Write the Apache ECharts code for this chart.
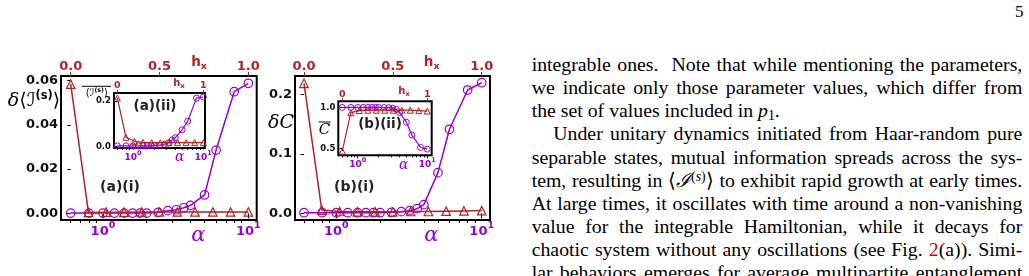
<!DOCTYPE html>
<html>
<head>
<meta charset="utf-8">
<script src="https://cdn.jsdelivr.net/npm/echarts@6.0.0/dist/echarts.min.js"></script>
<style>
html,body{margin:0;padding:0;background:#fff;}
body{width:1029px;height:276px;position:relative;overflow:hidden;}
#chart{position:absolute;left:0;top:0;width:520px;height:276px;}
#text{position:absolute;left:531.7px;top:53.4px;width:490.6px;font-family:'Liberation Serif','Times New Roman',serif;font-size:19.8px;line-height:23.04px;color:#000;}
#text .l{height:23.04px;text-align:justify;text-align-last:justify;}
#text .last{text-align:left;text-align-last:left;}
#text .ind{text-indent:21.6px;}
#text sup{font-size:0.7em;line-height:0;vertical-align:0.45em;}
#text sub{font-size:0.7em;line-height:0;vertical-align:-0.25em;}
#text .red{color:#e00000;}
#pg{position:absolute;left:1015px;top:2px;font-family:'Liberation Serif',serif;font-size:17px;line-height:20px;}
</style>
</head>
<body>
<div id="chart"></div>
<div id="pg">5</div>
<div id="text">
<div class="l">integrable ones.&nbsp; Note that while mentioning the parameters,</div>
<div class="l">we indicate only those parameter values, which differ from</div>
<div class="l last">the set of values included in <i>p</i><sub>1</sub>.</div>
<div class="l ind">Under unitary dynamics initiated from Haar-random pure</div>
<div class="l">separable states, mutual information spreads across the sys-</div>
<div class="l">tem, resulting in ⟨<i>ℐ</i><sup>(<i>s</i>)</sup>⟩ to exhibit rapid growth at early times.</div>
<div class="l">At large times, it oscillates with time around a non-vanishing</div>
<div class="l">value for the integrable Hamiltonian, while it decays for</div>
<div class="l">chaotic system without any oscillations (see Fig. <span class="red">2</span>(a)). Simi-</div>
<div class="l">lar behaviors emerges for average multipartite entanglement</div>
</div>
<script>
// ---------------- data ----------------
const alphaValues = [0.6, 0.8, 1.0, 1.2, 1.4, 1.6, 1.8, 2.0, 2.4, 2.8, 3.2, 3.6, 4, 5, 6, 8, 10];
const hxValues = [0, 0.1, 0.2, 0.3, 0.4, 0.5, 0.6, 0.7, 0.8, 0.9, 1.0];

const mainA_alpha = [0.0001, 0.0001, 0.0001, 0.0001, 0.0001, 0.0001, 0.0001, 0.0001, 0.0004, 0.0012, 0.0016, 0.0025, 0.0036, 0.0083, 0.0286, 0.0550, 0.0588];
const mainA_hx = [0.0584, 0.0004, 0.0005, 0.0005, 0.0006, 0.0006, 0.0006, 0.0006, 0.0006, 0.0006, 0.0006];
const insetA_alpha = [0.003, 0.003, 0.003, 0.003, 0.003, 0.003, 0.004, 0.004, 0.006, 0.010, 0.016, 0.029, 0.039, 0.074, 0.112, 0.214, 0.219];
const insetA_hx = [0.2146, 0.041, 0.023, 0.018, 0.017, 0.017, 0.017, 0.017, 0.017, 0.017, 0.017];
const mainB_alpha = [0.001, 0.001, 0.001, 0.001, 0.001, 0.001, 0.001, 0.001, 0.0017, 0.0027, 0.0044, 0.0078, 0.0145, 0.0683, 0.1412, 0.2072, 0.2195];
const mainB_hx = [0.2185, 0.0055, 0.003, 0.0025, 0.0025, 0.0025, 0.003, 0.003, 0.0035, 0.004, 0.0045];
const insetB_alpha = [0.998, 0.998, 0.998, 0.998, 0.998, 0.998, 0.998, 0.998, 0.997, 0.995, 0.99, 0.975, 0.935, 0.82, 0.665, 0.515, 0.495];
const insetB_hx = [0.47, 0.935, 0.96, 0.965, 0.965, 0.965, 0.965, 0.965, 0.965, 0.96, 0.955];

// tick values
const alphaMajorTicks = [1, 10];
const alphaMinorTicks = [0.6, 0.7, 0.8, 0.9, 2, 3, 4, 5, 6, 7, 8, 9];
const hxTicksMain = [0, 0.5, 1.0];
const hxTicksInset = [0, 1];
const yTicksMainA = [0, 0.02, 0.04, 0.06];
const yTicksInsetA = [0, 0.2];
const yTicksMainB = [0, 0.1, 0.2];
const yTicksInsetB = [0.5, 1.0];

// ---------------- layout / style ----------------
const PURPLE = '#9400D3';
const RED = '#B22222';
const INK = '#111';

const panels = [
  {box: [61, 76, 195.7, 144], a: [0.5146, 11.42], y: [-0.00303, 0.0621], yTicks: yTicksMainA, yDec: 2,
   hxTicks: hxTicksMain, hxDec: 1, alphaData: mainA_alpha, hxData: mainA_hx, inset: false},
  {box: [295, 76, 195, 144], a: [0.5203, 11.40], y: [-0.01126, 0.2308], yTicks: yTicksMainB, yDec: 1,
   hxTicks: hxTicksMain, hxDec: 1, alphaData: mainB_alpha, hxData: mainB_hx, inset: false},
  {box: [114, 93, 91, 55], a: [0.5385, 10.57], y: [-0.0066, 0.2367], yTicks: yTicksInsetA, yDec: 1,
   hxTicks: hxTicksInset, hxDec: 0, alphaData: insetA_alpha, hxData: insetA_hx, inset: true},
  {box: [338.3, 101.3, 93.4, 54], a: [0.5255, 11.57], y: [0.4203, 1.0725], yTicks: yTicksInsetB, yDec: 1,
   hxTicks: hxTicksInset, hxDec: 0, alphaData: insetB_alpha, hxData: insetB_hx, inset: true}
];

const LOG06 = Math.log10(0.6), SPAN = Math.log10(10 / 0.6);
const toHx = a => (Math.log10(a) - LOG06) / SPAN;

const grids = [], xAxes = [], yAxes = [], series = [];
panels.forEach((p, i) => {
  const ins = p.inset;
  grids.push({left: p.box[0], top: p.box[1], width: p.box[2], height: p.box[3], show: true,
    borderColor: '#000', borderWidth: 2, backgroundColor: ins ? '#fff' : 'rgba(0,0,0,0)',
    containLabel: false, outerBoundsMode: 'none'});
  const base = {gridIndex: i, splitLine: {show: false}, axisLine: {show: false}, minorTick: {show: false}};
  const supFs = ins ? 6.5 : 9.5, baseFs = ins ? 9 : 13;
  xAxes.push(Object.assign({}, base, {
    type: 'log', position: 'bottom', min: p.a[0], max: p.a[1],
    axisTick: {show: true, customValues: alphaMajorTicks, length: ins ? 3 : 5, lineStyle: {color: '#000', width: 1}},
    axisLabel: {show: true, customValues: alphaMajorTicks, margin: ins ? 2 : 1,
      formatter: v => '{b|10}{s|' + Math.round(Math.log10(v)) + '}',
      rich: {
        b: {fontFamily: 'DejaVu Sans', fontWeight: 'bold', fontSize: baseFs, color: PURPLE, padding: [ins ? 3 : 4, 0, 0, 0], verticalAlign: 'bottom'},
        s: {fontFamily: 'DejaVu Sans', fontWeight: 'bold', fontSize: supFs, color: PURPLE, verticalAlign: 'top'}
      }}
  }));
  xAxes.push(Object.assign({}, base, {
    type: 'log', position: 'bottom', min: p.a[0], max: p.a[1],
    axisTick: {show: true, customValues: alphaMinorTicks, length: ins ? 2 : 3, lineStyle: {color: '#000', width: 1}},
    axisLabel: {show: false}
  }));
  xAxes.push(Object.assign({}, base, {
    type: 'value', position: 'top', min: toHx(p.a[0]), max: toHx(p.a[1]),
    axisTick: {show: true, customValues: p.hxTicks, length: ins ? 3 : 4, lineStyle: {color: RED, width: 1}},
    axisLabel: {show: true, customValues: p.hxTicks, margin: ins ? 2 : 3,
      formatter: v => v.toFixed(p.hxDec), color: RED, fontWeight: 'bold',
      fontFamily: 'DejaVu Sans', fontSize: ins ? 9.5 : 13}
  }));
  yAxes.push(Object.assign({}, base, {
    type: 'value', min: p.y[0], max: p.y[1],
    axisTick: {show: true, customValues: p.yTicks, length: ins ? 2.5 : 3.5, lineStyle: {color: '#000', width: 1}},
    axisLabel: {show: true, customValues: p.yTicks, margin: 3,
      formatter: v => v.toFixed(p.yDec), color: INK, fontWeight: 'bold',
      fontFamily: 'DejaVu Sans', fontSize: ins ? 8.5 : 13}
  }));
  const symS = ins ? 6 : 8.5, lw = ins ? 1.2 : 1.5;
  series.push({
    type: 'line', xAxisIndex: 3 * i, yAxisIndex: i,
    data: alphaValues.map((a, k) => [a, p.alphaData[k]]),
    symbol: 'circle', symbolSize: symS, showAllSymbol: true,
    itemStyle: {color: 'rgba(255,255,255,0)', borderColor: PURPLE, borderWidth: ins ? 1 : 1.2},
    lineStyle: {color: PURPLE, width: lw}, emphasis: {disabled: true}, silent: true, clip: false, z: 3
  });
  series.push({
    type: 'line', xAxisIndex: 3 * i + 2, yAxisIndex: i,
    data: hxValues.map((h, k) => [h, p.hxData[k]]),
    symbol: 'triangle', symbolSize: symS, showAllSymbol: true,
    itemStyle: {color: 'rgba(255,255,255,0)', borderColor: RED, borderWidth: ins ? 1 : 1.2},
    lineStyle: {color: RED, width: lw}, emphasis: {disabled: true}, silent: true, clip: false, z: 4
  });
});

// ---------------- annotation texts ----------------
function hxLabel(x, y, fs) {
  return {type: 'text', x: x, y: y, silent: true, style: {
    text: '{h|h}{x|x}', align: 'center', verticalAlign: 'middle',
    rich: {
      h: {fontFamily: 'DejaVu Sans', fontWeight: 'bold', fontSize: fs, fill: RED},
      x: {fontFamily: 'DejaVu Sans', fontWeight: 'bold', fontSize: fs * 0.7, fill: RED, padding: [fs * 0.6, 0, 0, 0]}
    }}};
}
function alphaLabel(x, y, fs) {
  return {type: 'text', x: x, y: y, silent: true, style: {
    text: 'α', align: 'center', verticalAlign: 'middle',
    font: 'italic ' + fs + 'px "DejaVu Serif"', fill: PURPLE}};
}
function tagLabel(x, y, t, fs) {
  return {type: 'text', x: x, y: y, silent: true, style: {
    text: t, align: 'center', verticalAlign: 'middle',
    font: 'bold ' + fs + 'px "DejaVu Sans"', fill: '#222'}};
}
function iLabel(x, y, fs) {
  return {type: 'text', x: x, y: y, silent: true, style: {
    text: '{d|δ}{b|⟨}{i|ℐ}{s|(s)}{b|⟩}', align: 'center', verticalAlign: 'middle',
    rich: {
      d: {fontFamily: 'DejaVu Serif', fontStyle: 'italic', fontSize: fs, fill: '#000'},
      b: {fontFamily: 'DejaVu Serif', fontSize: fs, fill: '#000'},
      i: {fontFamily: 'DejaVu Sans', fontSize: fs, fill: '#000'},
      s: {fontFamily: 'DejaVu Sans', fontWeight: 'bold', fontSize: fs * 0.6, fill: '#000', padding: [0, 0, fs * 0.55, 0]}
    }}};
}
function iLabelNoDelta(x, y, fs) {
  return {type: 'text', x: x, y: y, silent: true, style: {
    text: '{b|⟨}{i|ℐ}{s|(s)}{b|⟩}', align: 'center', verticalAlign: 'middle',
    rich: {
      b: {fontFamily: 'DejaVu Serif', fontSize: fs, fill: '#000'},
      i: {fontFamily: 'DejaVu Sans', fontSize: fs, fill: '#000'},
      s: {fontFamily: 'DejaVu Sans', fontWeight: 'bold', fontSize: fs * 0.6, fill: '#000', padding: [0, 0, fs * 0.55, 0]}
    }}};
}
function cLabel(x, y, fs, delta) {
  return {type: 'text', x: x, y: y, silent: true, style: {
    text: (delta ? '{d|δ}' : '') + '{c|C}', align: 'center', verticalAlign: 'middle',
    rich: {
      d: {fontFamily: 'DejaVu Serif', fontStyle: 'italic', fontSize: fs, fill: '#000'},
      c: {fontFamily: 'DejaVu Serif', fontStyle: 'italic', fontSize: fs, fill: '#000'}
    }}};
}
function bar(x1, x2, y) {
  return {type: 'line', silent: true, shape: {x1: x1, y1: y, x2: x2, y2: y}, style: {stroke: '#000', lineWidth: 1}};
}

const graphics = [
  hxLabel(199, 62, 13.5), hxLabel(431.7, 62, 13.5),
  hxLabel(179, 83.5, 10), hxLabel(404, 91.5, 10),
  alphaLabel(198.3, 235.5, 21), alphaLabel(431.3, 235.5, 21),
  alphaLabel(179.7, 157.5, 14), alphaLabel(403.8, 165.5, 14),
  tagLabel(120, 187.5, '(a)(i)', 14), tagLabel(155, 106, '(a)(ii)', 13.5),
  tagLabel(354.3, 187, '(b)(i)', 14), tagLabel(380, 124.5, '(b)(ii)', 13.5),
  iLabel(34, 101, 19),
  iLabelNoDelta(96.7, 93.5, 10.5), bar(82, 111, 86.3),
  cLabel(281, 123, 19, true),
  cLabel(324.5, 130.5, 15, false), bar(318.5, 330.5, 122)
];

const chart = echarts.init(document.getElementById('chart'), null, {renderer: 'canvas'});
chart.setOption({
  animation: false,
  backgroundColor: '#fff',
  grid: grids, xAxis: xAxes, yAxis: yAxes, series: series,
  graphic: graphics
});
</script>
</body>
</html>
